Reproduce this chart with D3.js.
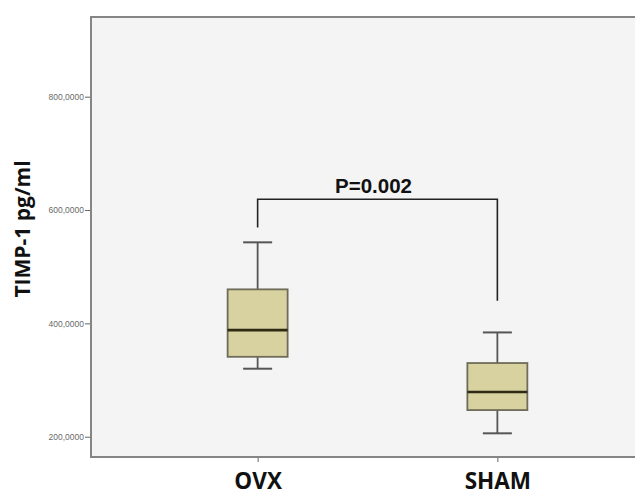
<!DOCTYPE html>
<html>
<head>
<meta charset="utf-8">
<script src="https://cdn.jsdelivr.net/npm/d3@7"></script>
<style>
  html, body { margin: 0; padding: 0; background: #fff; }
  svg { display: block; }
</style>
</head>
<body>
<svg id="chart" width="635" height="495"></svg>
<script>
// Groups and their box-plot summaries (pg/ml)
const groups = ["OVX", "SHAM"];
const whiskerLow  = [320, 206];
const quartile1   = [341, 247];
const medians     = [388, 279];
const quartile3   = [460, 330];
const whiskerHigh = [543, 384];

// Axis ticks
const yTicks = [200, 400, 600, 800];
const yTickLabels = ["200,0000", "400,0000", "600,0000", "800,0000"];

// Significance bracket
const bracketTop = 619;
const bracketEnds = [569, 440];
const pLabel = "P=0.002";

const svg = d3.select("#chart");
const plotLeft = 91, plotTop = 17, plotBottom = 457, plotRight = 664;

const x = d3.scalePoint().domain(groups).range([plotLeft, plotRight]).padding(0.695);
const y = d3.scaleLinear().domain([164.2, 940.6]).range([plotBottom, plotTop]);

// plot background
svg.append("rect")
  .attr("x", plotLeft).attr("y", plotTop)
  .attr("width", plotRight - plotLeft).attr("height", plotBottom - plotTop)
  .attr("fill", "#f4f4f4");

// frame
const frame = svg.append("g").attr("stroke", "#858585").attr("stroke-width", 2).attr("fill", "none");
frame.append("line").attr("x1", plotLeft).attr("x2", 640).attr("y1", plotTop).attr("y2", plotTop);
frame.append("line").attr("x1", plotLeft).attr("x2", 640).attr("y1", plotBottom).attr("y2", plotBottom);
frame.append("line").attr("x1", plotLeft).attr("x2", plotLeft).attr("y1", plotTop - 1).attr("y2", plotBottom + 1);

// y axis
const yAxis = d3.axisLeft(y).tickValues(yTicks).tickSize(5).tickPadding(1)
  .tickFormat((d, i) => yTickLabels[i]);
const gy = svg.append("g").attr("transform", `translate(${plotLeft - 1},0)`).call(yAxis);
gy.select(".domain").remove();
gy.selectAll(".tick line").attr("stroke", "#666");
gy.selectAll(".tick text")
  .attr("fill", "#6a6a6a")
  .style("font-family", "'Liberation Sans', Arial, sans-serif")
  .style("font-size", "8.5px");

// x axis
const xAxis = d3.axisBottom(x).tickSize(4).tickPadding(7);
const gx = svg.append("g").attr("transform", `translate(0,${plotBottom + 1})`).call(xAxis);
gx.select(".domain").remove();
gx.selectAll(".tick line").attr("stroke", "#666");
gx.selectAll(".tick text")
  .attr("fill", "#111")
  .attr("dy", "0")
  .attr("y", 31)
  .style("font-family", "'Open Sans', sans-serif")
  .style("font-weight", "bold")
  .style("font-size", "22.5px");

// y axis title
svg.append("text")
  .attr("transform", "translate(29.5,229) rotate(-90)")
  .attr("text-anchor", "middle")
  .attr("fill", "#111")
  .style("font-family", "'Open Sans', sans-serif")
  .style("font-weight", "bold")
  .style("font-size", "21px")
  .text("TIMP-1 pg/ml");

// box plots
const boxW = 60, capW = 29;
const boxes = svg.append("g");
groups.forEach((g, i) => {
  const cx = x(g);
  const b = boxes.append("g");
  b.append("line").attr("x1", cx).attr("x2", cx)
    .attr("y1", y(whiskerHigh[i])).attr("y2", y(quartile3[i]))
    .attr("stroke", "#555").attr("stroke-width", 1.8);
  b.append("line").attr("x1", cx).attr("x2", cx)
    .attr("y1", y(quartile1[i])).attr("y2", y(whiskerLow[i]))
    .attr("stroke", "#555").attr("stroke-width", 1.8);
  [whiskerHigh[i], whiskerLow[i]].forEach(v => {
    b.append("line").attr("x1", cx - capW / 2).attr("x2", cx + capW / 2)
      .attr("y1", y(v)).attr("y2", y(v))
      .attr("stroke", "#555").attr("stroke-width", 2);
  });
  b.append("rect")
    .attr("x", cx - boxW / 2).attr("y", y(quartile3[i]))
    .attr("width", boxW).attr("height", y(quartile1[i]) - y(quartile3[i]))
    .attr("fill", "#d8d1a0").attr("stroke", "#6e6c58").attr("stroke-width", 1.8);
  b.append("line").attr("x1", cx - boxW / 2).attr("x2", cx + boxW / 2)
    .attr("y1", y(medians[i])).attr("y2", y(medians[i]))
    .attr("stroke", "#2e2a14").attr("stroke-width", 2.6);
});

// significance bracket
const bracket = d3.line();
svg.append("path")
  .attr("d", bracket([
    [x(groups[0]), y(bracketEnds[0])],
    [x(groups[0]), y(bracketTop)],
    [x(groups[1]), y(bracketTop)],
    [x(groups[1]), y(bracketEnds[1])]
  ]))
  .attr("fill", "none").attr("stroke", "#222").attr("stroke-width", 1.6);

svg.append("text")
  .attr("x", (x(groups[0]) + x(groups[1])) / 2 - 4)
  .attr("y", y(bracketTop) - 6.5)
  .attr("text-anchor", "middle")
  .attr("fill", "#111")
  .style("font-family", "'Liberation Sans', Arial, sans-serif")
  .style("font-weight", "bold")
  .style("font-size", "20.5px")
  .text(pLabel);
</script>
</body>
</html>
